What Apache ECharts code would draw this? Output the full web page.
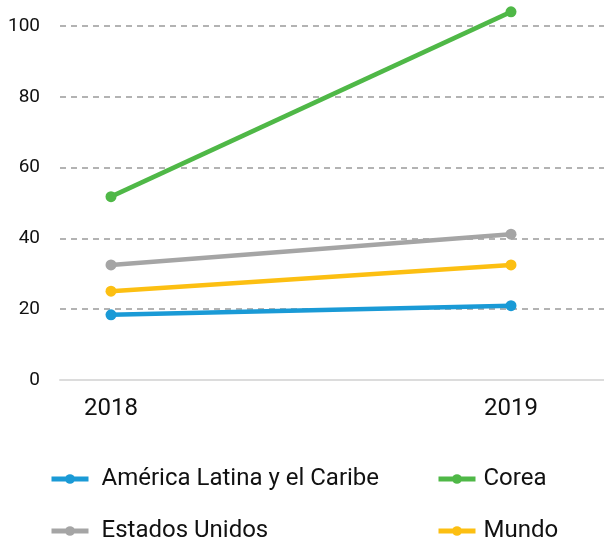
<!DOCTYPE html>
<html>
<head>
<meta charset="utf-8">
<script src="https://cdn.jsdelivr.net/npm/echarts@6/dist/echarts.min.js"></script>
<style>
  html, body { margin: 0; padding: 0; background: #fff; }
  #main { width: 604px; height: 538px; }
</style>
</head>
<body>
<div id="main"></div>
<script>
var years = [2018, 2019];
var seriesNames = ['América Latina y el Caribe', 'Corea', 'Estados Unidos', 'Mundo'];
var latam = [18.4, 21.0];
var corea = [51.8, 104];
var eeuu = [32.5, 41.2];
var mundo = [25.1, 32.5];
var colors = ['#1a9ad6', '#4fb847', '#a5a5a5', '#fcbf12'];

var allValues = [latam, corea, eeuu, mundo];

function pairs(vals) {
    return years.map(function (y, i) { return [y, vals[i]]; });
}

var myChart = echarts.init(document.getElementById('main'));

var series = seriesNames.map(function (name, i) {
    return {
        name: name,
        type: 'line',
        data: pairs(allValues[i]),
        symbol: 'circle',
        symbolSize: 11,
        clip: false,
        lineStyle: { width: 4.5, color: colors[i] },
        itemStyle: { color: colors[i] }
    };
});

// legend: 2 columns x 2 rows, one small legend per item
// [left, top, gap before text]
var legendSpots = [[49, 467, 8], [436, 467, 3], [49, 519, 8], [436, 519, 3]];
var legends = seriesNames.map(function (name, i) {
    return {
        data: [name],
        left: legendSpots[i][0],
        top: legendSpots[i][1],
        padding: 0,
        itemWidth: 37,
        itemHeight: 12,
        itemGap: 0,
        lineStyle: { width: 5 },
        textStyle: { fontFamily: 'Roboto', fontSize: 24, color: '#111', padding: [0, 0, 0, legendSpots[i][2]] }
    };
});

option = {
    animation: false,
    textStyle: { fontFamily: 'Roboto' },
    grid: { left: 60, right: 0, top: 26, bottom: 158 },
    legend: legends,
    xAxis: {
        type: 'value',
        min: 2017.8725,
        max: 2019.2325,
        axisLine: { show: true, onZero: false, lineStyle: { color: '#dcdcdc', width: 2 } },
        axisTick: { show: false },
        splitLine: { show: false },
        axisLabel: {
            customValues: years,
            formatter: function (v) { return String(v); },
            fontSize: 24,
            color: '#111',
            margin: 17
        }
    },
    yAxis: {
        type: 'value',
        min: 0,
        max: 100,
        interval: 20,
        axisLine: { show: false },
        axisTick: { show: false },
        axisLabel: { fontSize: 19, color: '#111', margin: 20 },
        splitLine: { lineStyle: { color: '#9a9a9a', type: [6, 5], width: 1.5 } }
    },
    series: series
};
myChart.setOption(option);
</script>
</body>
</html>
